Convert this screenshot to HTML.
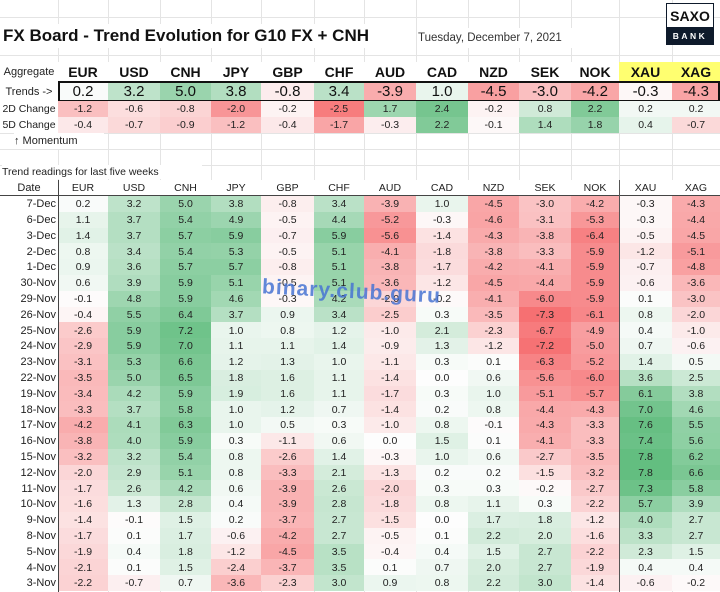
<!DOCTYPE html>
<html><head><meta charset="utf-8"><style>
html,body{margin:0;width:720px;height:592px;overflow:hidden}
body{background:#fff;font-family:"Liberation Sans",sans-serif;position:relative}
.c{position:absolute;display:flex;align-items:center;justify-content:center;box-sizing:border-box;color:#222;white-space:nowrap;overflow:hidden}
.g{position:absolute;background:#e4e4e4}
</style></head><body>
<div id="root"></div>
<script>
const L=[0,58,108,160,211,261,314,364,416,468,519,571,619,672,720];
const H=["EUR","USD","CNH","JPY","GBP","CHF","AUD","CAD","NZD","SEK","NOK","XAU","XAG"];
const D=[
["7-Dec",0.2,3.2,5.0,3.8,-0.8,3.4,-3.9,1.0,-4.5,-3.0,-4.2,-0.3,-4.3],
["6-Dec",1.1,3.7,5.4,4.9,-0.5,4.4,-5.2,-0.3,-4.6,-3.1,-5.3,-0.3,-4.4],
["3-Dec",1.4,3.7,5.7,5.9,-0.7,5.9,-5.6,-1.4,-4.3,-3.8,-6.4,-0.5,-4.5],
["2-Dec",0.8,3.4,5.4,5.3,-0.5,5.1,-4.1,-1.8,-3.8,-3.3,-5.9,-1.2,-5.1],
["1-Dec",0.9,3.6,5.7,5.7,-0.8,5.1,-3.8,-1.7,-4.2,-4.1,-5.9,-0.7,-4.8],
["30-Nov",0.6,3.9,5.9,5.1,-0.5,5.1,-3.6,-1.2,-4.5,-4.4,-5.9,-0.6,-3.6],
["29-Nov",-0.1,4.8,5.9,4.6,-0.3,4.2,-2.0,-0.2,-4.1,-6.0,-5.9,0.1,-3.0],
["26-Nov",-0.4,5.5,6.4,3.7,0.9,3.4,-2.5,0.3,-3.5,-7.3,-6.1,0.8,-2.0],
["25-Nov",-2.6,5.9,7.2,1.0,0.8,1.2,-1.0,2.1,-2.3,-6.7,-4.9,0.4,-1.0],
["24-Nov",-2.9,5.9,7.0,1.1,1.1,1.4,-0.9,1.3,-1.2,-7.2,-5.0,0.7,-0.6],
["23-Nov",-3.1,5.3,6.6,1.2,1.3,1.0,-1.1,0.3,0.1,-6.3,-5.2,1.4,0.5],
["22-Nov",-3.5,5.0,6.5,1.8,1.6,1.1,-1.4,0.0,0.6,-5.6,-6.0,3.6,2.5],
["19-Nov",-3.4,4.2,5.9,1.9,1.6,1.1,-1.7,0.3,1.0,-5.1,-5.7,6.1,3.8],
["18-Nov",-3.3,3.7,5.8,1.0,1.2,0.7,-1.4,0.2,0.8,-4.4,-4.3,7.0,4.6],
["17-Nov",-4.2,4.1,6.3,1.0,0.5,0.3,-1.0,0.8,-0.1,-4.3,-3.3,7.6,5.5],
["16-Nov",-3.8,4.0,5.9,0.3,-1.1,0.6,0.0,1.5,0.1,-4.1,-3.3,7.4,5.6],
["15-Nov",-3.2,3.2,5.4,0.8,-2.6,1.4,-0.3,1.0,0.6,-2.7,-3.5,7.8,6.2],
["12-Nov",-2.0,2.9,5.1,0.8,-3.3,2.1,-1.3,0.2,0.2,-1.5,-3.2,7.8,6.6],
["11-Nov",-1.7,2.6,4.2,0.6,-3.9,2.6,-2.0,0.3,0.3,-0.2,-2.7,7.3,5.8],
["10-Nov",-1.6,1.3,2.8,0.4,-3.9,2.8,-1.8,0.8,1.1,0.3,-2.2,5.7,3.9],
["9-Nov",-1.4,-0.1,1.5,0.2,-3.7,2.7,-1.5,0.0,1.7,1.8,-1.2,4.0,2.7],
["8-Nov",-1.7,0.1,1.7,-0.6,-4.2,2.7,-0.5,0.1,2.2,2.0,-1.6,3.3,2.7],
["5-Nov",-1.9,0.4,1.8,-1.2,-4.5,3.5,-0.4,0.4,1.5,2.7,-2.2,2.3,1.5],
["4-Nov",-2.1,0.1,1.5,-2.4,-3.7,3.5,0.1,0.7,2.0,2.7,-1.9,0.4,0.4],
["3-Nov",-2.2,-0.7,0.7,-3.6,-2.3,3.0,0.9,0.8,2.2,3.0,-1.4,-0.6,-0.2]];
const T=[0.2,3.2,5.0,3.8,-0.8,3.4,-3.9,1.0,-4.5,-3.0,-4.2,-0.3,-4.3];
const C2=[-1.2,-0.6,-0.8,-2.0,-0.2,-2.5,1.7,2.4,-0.2,0.8,2.2,0.2,0.2];
const C5=[-0.4,-0.7,-0.9,-1.2,-0.4,-1.7,-0.3,2.2,-0.1,1.4,1.8,0.4,-0.7];
function col(v,sp,sn){const w=[253,253,253];let t,e;
if(v>=0){t=Math.min(v/sp,1);e=[95,188,125]}else{t=Math.min(-v/sn,1);e=[246,108,110]}
return`rgb(${w.map((a,i)=>Math.round(a+(e[i]-a)*t)).join(",")})`}
let h="";
for(let i=1;i<14;i++)h+=`<div class="g" style="left:${L[i]}px;top:0;width:1px;height:592px"></div>`;
[17,55,62,101,117,133,149,165].forEach(y=>h+=`<div class="g" style="left:0;top:${y}px;width:720px;height:1px"></div>`);
function cell(x,y,w,hh,txt,st){h+=`<div class="c" style="left:${x}px;top:${y}px;width:${w}px;height:${hh}px;${st}">${txt}</div>`}
cell(3,24,395,24,"FX Board - Trend Evolution for G10 FX + CNH","justify-content:flex-start;font-weight:bold;font-size:17px;color:#111;background:#fff");
cell(418,28,200,20,"Tuesday, December 7, 2021","justify-content:flex-start;font-size:11.5px;color:#333;background:#fff");
h+=`<div style="position:absolute;left:666px;top:3px;width:48px;height:42px;background:#0e1a2b"></div>`;
cell(667,4,46,23,"SAXO","background:#fff;font-weight:bold;font-size:14px;color:#111");
cell(666,27,48,18,"BANK","color:#fff;font-size:8.5px;letter-spacing:2.5px;font-weight:bold");
cell(0,62,58,20,"Aggregate","font-size:11px;background:#fff");
H.forEach((n,i)=>cell(L[i+1],62,L[i+2]-L[i+1],20,n,`font-size:14px;font-weight:bold;color:#111;background:${i>10?'#ffff70':'#fff'}`));
cell(0,82,58,19,"Trends -&gt;","font-size:11px;background:#fff");
T.forEach((v,i)=>cell(L[i+1],82,L[i+2]-L[i+1],19,v.toFixed(1),`font-size:15px;color:#111;background:${col(v,8,7)}`));
h+=`<div style="position:absolute;left:58px;top:81px;width:662px;height:21px;border:2px solid #111;box-sizing:border-box"></div>`;
cell(0,101,58,16,"2D Change","font-size:10.5px;background:#fff");
C2.forEach((v,i)=>cell(L[i+1],101,L[i+2]-L[i+1],16,v.toFixed(1),`font-size:10.5px;background:${col(v,2.8,2.8)}`));
cell(0,117,58,16,"5D Change","font-size:10.5px;background:#fff");
C5.forEach((v,i)=>cell(L[i+1],117,L[i+2]-L[i+1],16,v.toFixed(1),`font-size:10.5px;background:${col(v,2.8,2.8)}`));
cell(14,133,90,16,"↑ Momentum","justify-content:flex-start;font-size:11px;background:#fff");
cell(2,165,200,14,"Trend readings for last five weeks","justify-content:flex-start;font-size:10.5px;background:#fff");
cell(0,180,58,16,"Date","font-size:11px;background:#fff");
H.forEach((n,i)=>cell(L[i+1],180,L[i+2]-L[i+1],16,n,"font-size:10.5px;background:#fff"));
h+=`<div style="position:absolute;left:0;top:195px;width:720px;height:1px;background:#444"></div>`;
const RH=15.8;
D.forEach((r,j)=>{const y=196+j*RH;
cell(0,y,57,RH+0.5,r[0],"justify-content:flex-end;font-size:11px;background:#fff;padding-right:1px");
for(let i=1;i<14;i++)cell(L[i],y,L[i+1]-L[i],RH+0.5,r[i].toFixed(1),`font-size:10.5px;background:${col(r[i],8,7.5)}`)});
h+=`<div style="position:absolute;left:58px;top:180px;width:1px;height:412px;background:#444"></div>`;
h+=`<div style="position:absolute;left:619px;top:180px;width:1px;height:412px;background:#555"></div>`;
h+=`<div style="position:absolute;left:262px;top:280px;font-weight:bold;font-size:21px;color:rgba(70,115,210,0.85);transform:rotate(3deg);letter-spacing:1px;white-space:nowrap">binary.club.guru</div>`;
document.getElementById("root").innerHTML=h;
</script>
</body></html>
